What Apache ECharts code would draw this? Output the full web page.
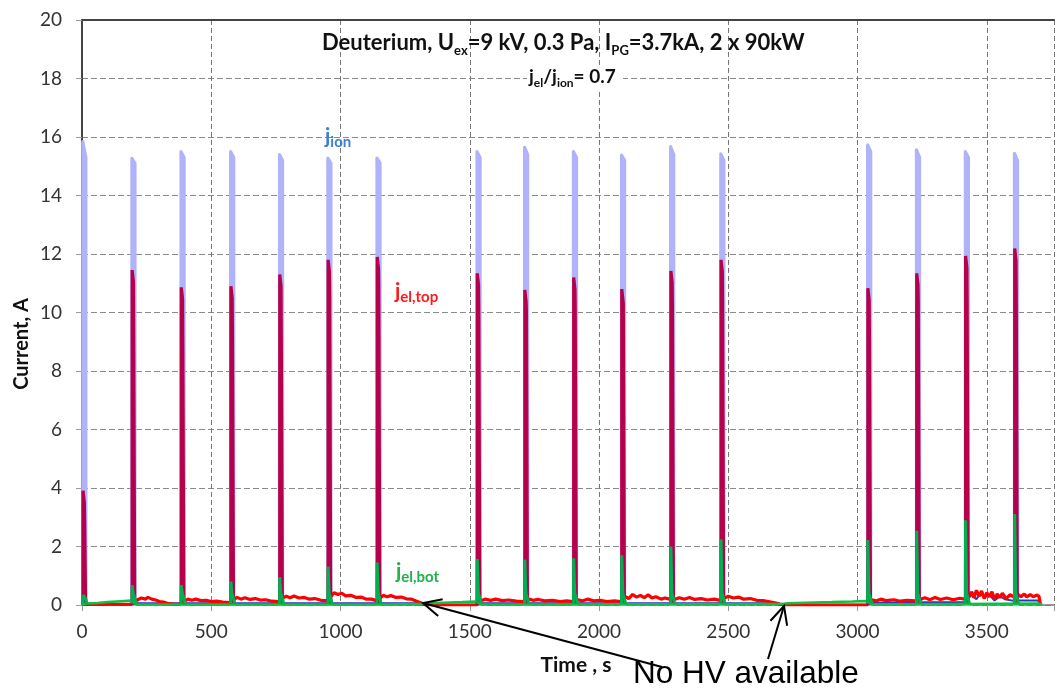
<!DOCTYPE html>
<html><head><meta charset="utf-8">
<script src="https://cdn.jsdelivr.net/npm/echarts@6/dist/echarts.min.js"></script>
<style>html,body{margin:0;padding:0;background:#fff}#c{width:1057px;height:688px}</style>
</head><body><div id="c"></div>
<script>
// ---- data ----
const xTicks = [0, 500, 1000, 1500, 2000, 2500, 3000, 3500];
const yTicks = [0, 2, 4, 6, 8, 10, 12, 14, 16, 18, 20];
// pulse start times (s)
const pulseT   = [3, 193, 383, 575, 764, 951, 1141, 1528, 1712, 1901, 2087, 2277, 2471, 3039, 3228, 3417, 3607];
// j_ion peak (A)
const ionPeak  = [15.84, 15.27, 15.5, 15.5, 15.4, 15.28, 15.28, 15.5, 15.65, 15.5, 15.38, 15.67, 15.42, 15.73, 15.56, 15.5, 15.44];
const ionEnd   = [15.3, 15.1, 15.3, 15.3, 15.2, 15.1, 15.1, 15.3, 15.4, 15.3, 15.2, 15.4, 15.2, 15.5, 15.3, 15.3, 15.2];
// j_el,top peak and level after the drop (A)
const topPeak  = [3.91, 11.45, 10.86, 10.9, 11.3, 11.8, 11.9, 11.34, 10.77, 11.2, 10.8, 11.42, 11.8, 10.83, 11.34, 11.93, 12.19];
const topDrop  = [3.0, 8.96, 8.79, 9.2, 9.0, 10.67, 10.94, 9.9, 10.08, 10.08, 10.3, 10.08, 10.37, 9.2, 10.37, 10.26, 10.66];
// j_el,bot peak (A)
const botPeak  = [0.34, 0.68, 0.68, 0.8, 0.95, 1.31, 1.45, 1.57, 1.55, 1.6, 1.7, 2.0, 2.25, 2.22, 2.54, 2.9, 3.11];
// baselines between pulses [t, A]
const elTopBase = [[0,0.02],[20,0.02],[100,0.02],[190,0.02],[205,0.1],[215,0.18],[230,0.24],[245,0.2],[255,0.26],[270,0.2],[285,0.17],[300,0.12],[315,0.1],[330,0.06],[350,0.03],[375,0.02],
  [400,0.15],[410,0.2],[425,0.16],[440,0.2],[460,0.15],[480,0.16],[500,0.12],[520,0.13],[545,0.1],[570,0.08],
  [590,0.2],[600,0.26],[615,0.2],[630,0.25],[650,0.19],[670,0.22],[690,0.17],[710,0.18],[735,0.13],[760,0.12],
  [780,0.25],[790,0.3],[805,0.25],[820,0.31],[840,0.24],[860,0.26],[880,0.2],[900,0.22],[925,0.16],[948,0.15],
  [966,0.33],[975,0.42],[990,0.36],[1005,0.4],[1020,0.31],[1040,0.33],[1060,0.26],[1080,0.27],[1100,0.2],[1120,0.2],[1138,0.15],
  [1156,0.25],[1165,0.33],[1180,0.28],[1195,0.32],[1215,0.26],[1235,0.27],[1255,0.21],[1275,0.2],[1295,0.13],[1310,0.08],[1325,0.01],[1400,0],[1525,0],
  [1545,0.15],[1560,0.2],[1580,0.16],[1600,0.2],[1625,0.15],[1650,0.17],[1680,0.13],[1705,0.12],
  [1730,0.2],[1745,0.16],[1765,0.19],[1790,0.14],[1820,0.16],[1850,0.12],[1875,0.14],[1898,0.12],
  [1918,0.18],[1935,0.14],[1955,0.2],[1980,0.14],[2005,0.16],[2030,0.12],[2060,0.14],[2084,0.12],
  [2104,0.28],[2115,0.22],[2130,0.36],[2145,0.27],[2160,0.33],[2175,0.25],[2190,0.35],[2205,0.24],[2220,0.28],[2240,0.2],[2255,0.24],[2273,0.2],
  [2294,0.2],[2310,0.25],[2330,0.2],[2350,0.26],[2370,0.19],[2395,0.22],[2420,0.17],[2445,0.2],[2468,0.16],
  [2488,0.25],[2500,0.3],[2520,0.24],[2540,0.27],[2560,0.2],[2585,0.22],[2610,0.16],[2635,0.15],[2660,0.11],[2685,0.07],[2705,0.02],[2720,0],[2900,0],[3036,0],
  [3055,0.18],[3070,0.14],[3090,0.2],[3110,0.15],[3140,0.18],[3165,0.13],[3190,0.16],[3225,0.14],
  [3245,0.2],[3260,0.25],[3280,0.18],[3300,0.26],[3320,0.19],[3345,0.24],[3370,0.18],[3395,0.23],[3414,0.2],
  [3432,0.3],[3442,0.45],[3450,0.25],[3460,0.5],[3470,0.3],[3480,0.48],[3490,0.22],[3500,0.42],[3510,0.28],[3520,0.45],[3530,0.2],[3540,0.38],[3550,0.25],[3560,0.4],[3575,0.22],[3590,0.35],[3604,0.28],
  [3622,0.35],[3632,0.28],[3645,0.38],[3655,0.27],[3668,0.36],[3680,0.28],[3692,0.34],[3702,0.3],[3708,0]];
const elBotBase = [[0,0.02],[16,0.05],[60,0.07],[100,0.1],[150,0.13],[190,0.15],
  [210,0.02],[380,0.02],[400,0.02],[570,0.02],[590,0.02],[760,0.02],[780,0.02],[948,0.02],[966,0.02],[1138,0.02],[1156,0.02],[1300,0.03],
  [1330,0.06],[1400,0.08],[1470,0.1],[1525,0.12],[1545,0.02],[2700,0.03],[2730,0.06],[2800,0.08],[2900,0.1],[2980,0.12],[3036,0.14],
  [3055,0.02],[3700,0.05],[3715,0]];
const ionBase = [[0,0.03],[190,0.03],[210,0.06],[1300,0.06],[1320,0.01],[1525,0.01],[1545,0.06],[2690,0.06],[2710,0.01],[3036,0.01],
  [3055,0.08],[3420,0.1],[3440,0.35],[3460,0.2],[3475,0.4],[3490,0.25],[3510,0.35],[3530,0.15],[3550,0.3],[3570,0.2],[3600,0.15],[3625,0.15],[3700,0.15],[3706,0]];

// ---- build pulse series from the arrays ----
const ionData = [], topData = [], botData = [];
pulseT.forEach((t, i) => {
  ionData.push([t, 0], [t, ionPeak[i]], [t + 12, ionEnd[i]], [t + 12, 0], [t + 13, '-']);
  topData.push([t + 1, 0], [t + 1, topPeak[i]], [t + 6, topPeak[i] - 0.4], [t + 7, topDrop[i]], [t + 11, topDrop[i]], [t + 11, 0], [t + 12, '-']);
  botData.push([t, 0.05], [t + 1, botPeak[i]], [t + 5, 0.4], [t + 12, 0.2], [t + 16, 0.04], [t + 17, '-']);
});

const FONT = 'Lato';
const chart = echarts.init(document.getElementById('c'), null, {renderer: 'canvas'});
const noSym = {showSymbol: false, symbol: 'none', animation: false, connectNulls: false};
chart.setOption({
  animation: false,
  grid: {left: 82, right: 0, top: 20, bottom: 83},
  xAxis: [{
    type: 'value', min: 0, max: 3760, interval: 500,
    axisLine: {lineStyle: {color: '#777', width: 1.5}},
    axisTick: {show: true, length: 6, lineStyle: {color: '#999'}},
    axisLabel: {fontFamily: FONT, fontSize: 19, color: '#333', margin: 17,
      formatter: v => xTicks.indexOf(v) >= 0 ? String(v) : ''},
    splitLine: {show: true, lineStyle: {type: [5, 3], color: '#777', width: 1}}
  }, {
    type: 'value', position: 'top', min: 0, max: 3760,
    axisLine: {show: true, onZero: false, lineStyle: {color: '#444', width: 2}},
    axisTick: {show: false}, axisLabel: {show: false}, splitLine: {show: false}
  }],
  yAxis: {
    type: 'value', min: 0, max: 20, interval: 2,
    axisLine: {show: true, lineStyle: {color: '#444', width: 2}},
    axisTick: {show: true, length: 6, lineStyle: {color: '#999'}},
    axisLabel: {fontFamily: FONT, fontSize: 19, color: '#333', margin: 20,
      formatter: v => yTicks.indexOf(v) >= 0 ? String(v) : ''},
    splitLine: {show: true, lineStyle: {type: [6, 3], color: '#8a8a8a', width: 1.2}}
  },
  series: [
    Object.assign({type: 'line', name: 'j_ion', data: ionData, lineStyle: {color: '#b2b2fb', width: 3.2, join: 'round', cap: 'round'}}, noSym),
    Object.assign({type: 'line', name: 'j_ion base', data: ionBase, lineStyle: {color: '#3030cc', width: 2}}, noSym),
    Object.assign({type: 'line', name: 'j_el,top base', data: elTopBase, lineStyle: {color: '#ff0000', width: 3.2}}, noSym),
    Object.assign({type: 'line', name: 'j_el,top', data: topData, lineStyle: {color: '#b5004b', width: 3.2}}, noSym),
    Object.assign({type: 'line', name: 'j_el,bot base', data: elBotBase, lineStyle: {color: '#10c040', width: 2.5}}, noSym),
    Object.assign({type: 'line', name: 'j_el,bot', data: botData, lineStyle: {color: '#00b050', width: 3}}, noSym)
  ]
});

// ---- annotations ----
function subRich(col, big, small) {
  return {
    m: {fontFamily: FONT, fontWeight: 'bold', fontSize: big, lineHeight: big + 6, fill: col, verticalAlign: 'middle'},
    s: {fontFamily: FONT, fontWeight: 'bold', fontSize: small, lineHeight: big + 6, fill: col, verticalAlign: 'bottom'}
  };
}
function arrow(tail, tip) {
  const dx = tip[0] - tail[0], dy = tip[1] - tail[1];
  const a = Math.atan2(dy, dx), L = 20, sp = 0.45;
  const h1 = [tip[0] - L * Math.cos(a - sp), tip[1] - L * Math.sin(a - sp)];
  const h2 = [tip[0] - L * Math.cos(a + sp), tip[1] - L * Math.sin(a + sp)];
  return [
    {type: 'line', shape: {x1: tail[0], y1: tail[1], x2: tip[0], y2: tip[1]}, style: {stroke: '#000', lineWidth: 2}, z: 100},
    {type: 'polyline', shape: {points: [h1, tip, h2]}, style: {stroke: '#000', lineWidth: 2, fill: null}, z: 100}
  ];
}
const g = [
  {type: 'text', left: 322, top: 32, z: 100, style: {
    text: '{m|Deuterium, U}{s|ex}{m|=9 kV, 0.3 Pa, I}{s|PG}{m|=3.7kA, 2 x 90kW}',
    rich: subRich('#111', 22, 13)}},
  {type: 'rect', left: 527, top: 68, shape: {width: 96, height: 24}, style: {fill: '#fff'}, z: 90},
  {type: 'text', left: 529, top: 67, z: 100, style: {
    text: '{m|j}{s|el}{m|/j}{s|ion}{m|= 0.7}', rich: subRich('#111', 19, 12)}},
  {type: 'text', left: 325, top: 126, z: 100, style: {text: '{m|j}{s|ion}', rich: subRich('#3d7fd2', 21, 15)}},
  {type: 'text', left: 395, top: 281, z: 100, style: {text: '{m|j}{s|el,top}', rich: subRich('#ff1a1a', 21, 15)}},
  {type: 'text', left: 396, top: 561, z: 100, style: {text: '{m|j}{s|el,bot}', rich: subRich('#1fb34a', 21, 15)}},
  {type: 'text', x: 22, y: 344, rotation: Math.PI / 2, z: 100, style: {text: 'Current, A', fontFamily: FONT, fontWeight: 'bold', fontSize: 20, fill: '#111', align: 'center', verticalAlign: 'middle'}},
  {type: 'text', x: 576, y: 665, z: 100, style: {text: 'Time , s', fontFamily: FONT, fontWeight: 'bold', fontSize: 21, fill: '#111', align: 'center', verticalAlign: 'middle'}},
  {type: 'text', left: 633, top: 658, z: 100, style: {text: 'No HV available', fontFamily: 'Liberation Sans', fontSize: 31.5, fill: '#000'}}
].concat(arrow([662, 667], [423, 603])).concat(arrow([768, 659], [784, 606]));
chart.setOption({graphic: g});
</script></body></html>
